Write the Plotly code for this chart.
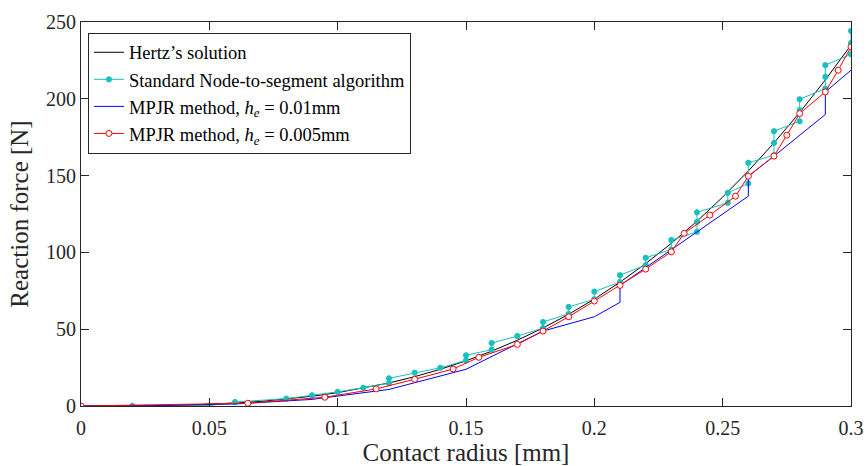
import plotly.graph_objects as go

# Hertz's solution
hertz_x = [0, 0.01, 0.02, 0.03, 0.04, 0.05, 0.06, 0.07, 0.08, 0.09, 0.10, 0.11, 0.12, 0.13, 0.14, 0.15,
           0.16, 0.17, 0.18, 0.19, 0.20, 0.21, 0.22, 0.23, 0.24, 0.25, 0.26, 0.27, 0.28, 0.29, 0.30]
hertz_y = [0, 0.01, 0.07, 0.24, 0.56, 1.09, 1.88, 2.99, 4.46, 6.35, 8.70, 11.6, 15.0, 19.1, 23.9, 29.4,
           35.7, 42.8, 50.8, 59.7, 69.6, 80.6, 92.7, 105.9, 120.3, 136.0, 153.0, 171.3, 191.1, 212.3, 235.0]

# Standard Node-to-segment algorithm
nts_x = [0, 0.02, 0.05, 0.06, 0.08, 0.09, 0.10, 0.11, 0.12, 0.12, 0.13, 0.14, 0.15, 0.15, 0.16, 0.16,
         0.17, 0.18, 0.18, 0.19, 0.19, 0.20, 0.20, 0.21, 0.21, 0.22, 0.22, 0.23, 0.23, 0.24, 0.24, 0.24,
         0.252, 0.252, 0.26, 0.26, 0.27, 0.27, 0.27, 0.28, 0.28, 0.28, 0.29, 0.29, 0.29, 0.30, 0.30, 0.30]
nts_y = [0, 0.1, 0.3, 2.6, 4.8, 7.0, 9.2, 11.9, 14.8, 18.0, 21.7, 24.9, 29.7, 33.0, 36.7, 41.0,
         45.5, 50.8, 54.7, 60.0, 64.5, 69.5, 74.5, 80.7, 85.2, 91.7, 96.5, 101.8, 108.0, 113.4, 119.9, 126.1,
         132.3, 138.8, 144.9, 158.3, 163.3, 171.3, 178.9, 185.4, 192.6, 199.7, 206.7, 214.3, 221.9, 229.0, 236.4, 244.2]

# MPJR method, h_e = 0.01 mm
mp1_x = [0, 0.03, 0.06, 0.09, 0.12, 0.15, 0.18, 0.20, 0.21, 0.21, 0.26, 0.26, 0.27, 0.29, 0.29, 0.30]
mp1_y = [0, 0.3, 1.3, 4.3, 10.8, 23.9, 48.8, 58.1, 67.5, 78.5, 136.6, 149.6, 162.7, 189.8, 204.5, 218.6]

# MPJR method, h_e = 0.005 mm
mp2_x = [0, 0.065, 0.095, 0.115, 0.13, 0.145, 0.155, 0.17, 0.18, 0.19, 0.20, 0.21, 0.22, 0.23, 0.235,
         0.245, 0.255, 0.26, 0.27, 0.275, 0.28, 0.29, 0.295, 0.30]
mp2_y = [0, 1.8, 5.7, 11.1, 17.4, 24.1, 31.7, 40.1, 48.8, 58.1, 68.3, 78.5, 89.1, 100.4, 112.4,
         124.3, 136.6, 149.6, 162.7, 176.3, 190.4, 204.5, 218.6, 233.8]

x_ticks = [0, 0.05, 0.1, 0.15, 0.2, 0.25, 0.3]
x_tick_labels = ["0", "0.05", "0.1", "0.15", "0.2", "0.25", "0.3"]
y_ticks = [0, 50, 100, 150, 200, 250]

FONT = "Liberation Serif, Times New Roman, serif"
AX = "#262626"

fig = go.Figure()
fig.add_trace(go.Scatter(x=hertz_x, y=hertz_y, mode="lines", name="Hertz’s solution",
                         line=dict(color="black", width=1)))
fig.add_trace(go.Scatter(x=nts_x, y=nts_y, mode="lines+markers", name="Standard Node-to-segment algorithm",
                         line=dict(color="#1ABFBF", width=1),
                         marker=dict(symbol="asterisk", size=5, color="#1ABFBF",
                                     line=dict(color="#1ABFBF", width=2))))
fig.add_trace(go.Scatter(x=mp1_x, y=mp1_y, mode="lines", name="MPJR method, <i>h</i><sub><i>e</i></sub> = 0.01mm",
                         line=dict(color="#0000FF", width=1)))
fig.add_trace(go.Scatter(x=mp2_x, y=mp2_y, mode="lines+markers", name="MPJR method, <i>h</i><sub><i>e</i></sub> = 0.005mm",
                         line=dict(color="#FF0000", width=1),
                         marker=dict(symbol="circle", size=6, color="white",
                                     line=dict(color="#FF0000", width=1))))

fig.update_layout(
    width=868, height=466,
    margin=dict(l=81, r=17, t=22, b=60),
    paper_bgcolor="white", plot_bgcolor="white",
    font=dict(family=FONT, color="black", size=20),
    showlegend=True,
    legend=dict(x=0.009, y=0.972, xanchor="left", yanchor="top",
                bgcolor="white", bordercolor="#262626", borderwidth=1,
                font=dict(family=FONT, size=18.5, color="black"),
                itemwidth=30, tracegroupgap=0),
    xaxis=dict(range=[0, 0.3], tickvals=x_ticks, ticktext=x_tick_labels,
               showgrid=False, zeroline=False, showline=True, linecolor=AX, linewidth=1,
               mirror="ticks", ticks="inside", ticklen=8, tickcolor=AX, tickwidth=1,
               ticklabelstandoff=4,
               tickfont=dict(family=FONT, size=20, color="#262626"),
               title=dict(text="Contact radius [mm]", font=dict(family=FONT, size=25, color="#262626"), standoff=6),
               automargin=False),
    yaxis=dict(range=[0, 250], tickvals=y_ticks,
               showgrid=False, zeroline=False, showline=True, linecolor=AX, linewidth=1,
               mirror="ticks", ticks="inside", ticklen=8, tickcolor=AX, tickwidth=1,
               tickfont=dict(family=FONT, size=20, color="#262626"),
               title=dict(text="Reaction force [N]", font=dict(family=FONT, size=25, color="#262626"), standoff=10),
               automargin=False),
)

fig.write_html("out.html")
